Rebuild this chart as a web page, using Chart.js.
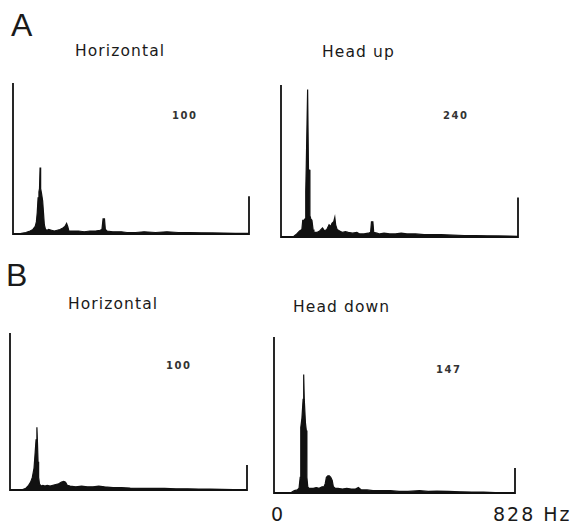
<!DOCTYPE html>
<html>
<head>
<meta charset="utf-8">
<script src="https://cdn.jsdelivr.net/npm/chart.js@4/dist/chart.umd.min.js"></script>
<style>
  body { margin: 0; background: #fff; width: 571px; height: 526px; position: relative; overflow: hidden; }
  .t { position: absolute; font-family: "DejaVu Sans", sans-serif; color: #1a1a1a; line-height: 1; white-space: nowrap; }
  .big { font-family: "Liberation Sans", sans-serif; font-size: 32px; }
  .ttl { font-size: 15.5px; letter-spacing: 1.1px; }
  .num { font-size: 10px; font-weight: bold; letter-spacing: 1.5px; color: #333; }
  .hz { font-size: 19px; letter-spacing: 2px; }
  canvas { position: absolute; }
</style>
</head>
<body>
<div class="t big" style="left:11px;top:9px">A</div>
<div class="t ttl" style="left:75px;top:44px">Horizontal</div>
<div class="t ttl" style="left:322px;top:45px">Head up</div>
<div class="t big" style="left:6px;top:259px">B</div>
<div class="t ttl" style="left:68px;top:297px">Horizontal</div>
<div class="t ttl" style="left:293px;top:300px">Head down</div>
<div class="t num" style="left:172px;top:111px">100</div>
<div class="t num" style="left:443px;top:111px">240</div>
<div class="t num" style="left:166px;top:361px">100</div>
<div class="t num" style="left:436px;top:365px">147</div>
<div class="t hz" style="left:271px;top:505px">0</div>
<div class="t hz" style="left:493px;top:505px">828 Hz</div>

<canvas id="c1"></canvas>
<canvas id="c2"></canvas>
<canvas id="c3"></canvas>
<canvas id="c4"></canvas>

<script>
// frequency axis runs 0..828 Hz, amplitude in percent of the panel's full scale
const FMAX = 828;

// A, horizontal (full scale 100)
const aHorizHz = [0, 20, 30, 45, 60, 70, 78, 82, 85, 88, 91, 93, 95, 97, 100, 104, 107, 110, 114, 120, 125, 135, 145, 155, 165, 175, 182, 188, 192, 196, 210, 230, 250, 270, 290, 305, 312, 316, 321, 324, 330, 350, 380, 400, 430, 460, 500, 540, 580, 620, 660, 700, 740, 780, 828];
const aHorizAmp = [0, 0, 0.5, 1, 2, 3, 5, 8, 14, 24, 28, 30, 44, 30, 27, 22, 14, 6, 3, 2.5, 3, 2.5, 2, 2.5, 3, 4, 5, 7, 5, 2, 2, 2, 1.5, 2, 2, 2.5, 3, 10, 10, 3, 2, 1.5, 1.5, 1, 1, 1.5, 1, 1.5, 1, 1, 0.8, 0.7, 0.6, 0.5, 0.4];

// A, head up (full scale 240)
const aUpHz = [0, 30, 45, 55, 65, 73, 76, 80, 84, 86, 87, 88, 90, 93, 94, 96, 100, 101, 104, 108, 112, 115, 125, 135, 145, 152, 160, 168, 174, 178, 184, 188, 191, 196, 205, 215, 225, 235, 250, 265, 275, 290, 305, 313, 316, 321, 324, 335, 345, 360, 380, 400, 420, 440, 470, 500, 530, 560, 600, 640, 680, 720, 760, 800, 828];
const aUpAmp = [0, 0, 0.5, 2, 4, 5, 11, 11, 12, 14, 30, 44, 44, 97, 97, 44, 44, 14, 12, 11, 5, 3, 3, 4, 6, 4, 5, 8, 7, 9, 10, 13, 8, 5, 4, 3, 3.5, 3, 2.5, 3, 2, 2, 2.5, 3, 10, 10, 3, 2.5, 2, 2.5, 2, 2, 2.5, 2, 2, 1.5, 1.5, 1.5, 1.2, 1, 1, 0.8, 0.7, 0.6, 0.5];

// B, horizontal (full scale 100)
const bHorizHz = [0, 40, 55, 65, 72, 78, 84, 88, 91, 94, 96, 98, 100, 103, 108, 115, 122, 130, 140, 150, 160, 170, 180, 188, 194, 200, 210, 230, 250, 270, 290, 310, 330, 360, 390, 420, 460, 500, 540, 580, 620, 660, 700, 740, 780, 828];
const bHorizAmp = [0, 0, 1, 3, 5, 8, 14, 24, 32, 40, 30, 18, 8, 4, 2.5, 3, 2.5, 3, 2.5, 3, 3.5, 4, 5, 5.5, 5, 3, 2.5, 2, 2.5, 2, 2, 2.5, 2, 1.5, 1.5, 1.2, 1, 1, 1, 0.8, 0.8, 0.6, 0.5, 0.4, 0.3, 0.2];

// B, head down (full scale 147)
const bDownHz = [0, 40, 60, 70, 80, 86, 90, 92, 96, 100, 102, 104, 108, 111, 113, 116, 120, 125, 135, 145, 155, 165, 172, 176, 180, 185, 190, 195, 200, 204, 210, 220, 235, 250, 265, 280, 290, 300, 320, 340, 370, 400, 430, 460, 500, 530, 560, 600, 640, 680, 720, 760, 828];
const bDownAmp = [0, 0, 0.5, 1.5, 2, 3, 10, 42, 48, 60, 76, 60, 45, 40, 10, 4, 3, 3, 3, 3.5, 3, 4, 4, 6, 10, 11, 11, 10, 8, 4, 3, 3, 2.5, 3, 2.5, 2.5, 3.5, 2, 2, 1.5, 1.5, 1.5, 1, 1, 1.5, 1, 1.2, 1, 0.8, 0.6, 0.5, 0.3, 0.2];

// axis frame: left axis to full scale, baseline, short end marker at 828 Hz
const frameHz = [0, 0, FMAX, FMAX];
const frameAmp = [100, 0, 0, 25];

const PAD = 3;

function panel(id, box, hz, amp, endTick) {
  const cv = document.getElementById(id);
  const w = box.right - box.left, h = box.bottom - box.top;
  cv.width = w + PAD * 2;
  cv.height = h + PAD * 2;
  cv.style.left = (box.left - PAD) + 'px';
  cv.style.top = (box.top - PAD) + 'px';
  const spec = hz.map((x, i) => ({ x: x, y: amp[i] }));
  const frame = frameHz.map((x, i) => ({ x: x, y: i === 3 ? endTick : frameAmp[i] }));
  new Chart(cv, {
    type: 'line',
    data: {
      datasets: [
        {
          data: spec,
          borderColor: '#111',
          backgroundColor: '#111',
          borderWidth: 1.2,
          fill: 'origin',
          pointRadius: 0,
          tension: 0,
          clip: false,
        },
        {
          data: frame,
          borderColor: '#111',
          borderWidth: 1.8,
          fill: false,
          pointRadius: 0,
          tension: 0,
          clip: false,
        },
      ],
    },
    options: {
      responsive: false,
      animation: false,
      layout: { padding: PAD },
      scales: {
        x: { type: 'linear', min: 0, max: FMAX, display: false },
        y: { min: 0, max: 100, display: false },
      },
      plugins: { legend: { display: false }, tooltip: { enabled: false } },
    },
  });
}

panel('c1', { left: 13, top: 83, right: 249, bottom: 234 }, aHorizHz, aHorizAmp, 25);
panel('c2', { left: 281, top: 85, right: 518, bottom: 237 }, aUpHz, aUpAmp, 26);
panel('c3', { left: 10, top: 333, right: 247, bottom: 490 }, bHorizHz, bHorizAmp, 16);
panel('c4', { left: 274, top: 337, right: 515, bottom: 493 }, bDownHz, bDownAmp, 16);
</script>
</body>
</html>
